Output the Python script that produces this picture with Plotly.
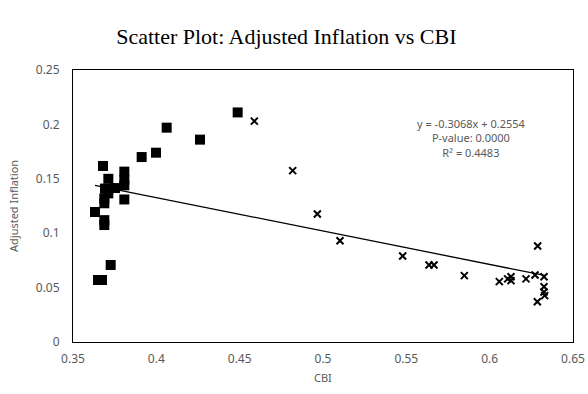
import plotly.graph_objects as go

# Group 1 (squares)
sq_x = [0.3632, 0.3680, 0.3650, 0.3674, 0.3726, 0.3688, 0.3688, 0.3712, 0.3808, 0.3808, 0.3808,
        0.3692, 0.3752, 0.3712, 0.3688, 0.3688, 0.3808, 0.3912, 0.3998, 0.4062, 0.4262, 0.4488]
sq_y = [0.1195, 0.1618, 0.0570, 0.0570, 0.0708, 0.1120, 0.1075, 0.1500, 0.1566, 0.1490, 0.1440,
        0.1410, 0.1415, 0.1366, 0.1320, 0.1275, 0.1310, 0.1700, 0.1740, 0.1970, 0.1860, 0.2110]

# Group 2 (crosses)
cx_x = [0.4588, 0.4818, 0.4966, 0.5102, 0.5478, 0.5636, 0.5666, 0.5848, 0.6058, 0.6108, 0.6128,
        0.6128, 0.6218, 0.6272, 0.6288, 0.6326, 0.6326, 0.6326, 0.6330, 0.6286]
cx_y = [0.2030, 0.1575, 0.1176, 0.0931, 0.0790, 0.0708, 0.0708, 0.0610, 0.0555, 0.0580, 0.0600,
        0.0564, 0.0580, 0.0616, 0.0882, 0.0600, 0.0508, 0.0460, 0.0426, 0.0370]

slope = -0.3068
intercept = 0.2554
r2 = 0.4483
pval = 0.0000

x_ticks = [0.35, 0.40, 0.45, 0.50, 0.55, 0.60, 0.65]
x_labels = ["0.35", "0.4", "0.45", "0.5", "0.55", "0.6", "0.65"]
y_ticks = [0, 0.05, 0.10, 0.15, 0.20, 0.25]
y_labels = ["0", "0.05", "0.1", "0.15", "0.2", "0.25"]

all_x = sq_x + cx_x
x0, x1 = min(all_x), max(all_x)
line_x = [x0, x1]
line_y = [slope * v + intercept for v in line_x]

fig = go.Figure()
fig.add_trace(go.Scatter(x=line_x, y=line_y, mode="lines",
                         line=dict(color="black", width=1.3), hoverinfo="skip"))
fig.add_trace(go.Scatter(x=sq_x, y=sq_y, mode="markers",
                         marker=dict(symbol="square", size=10, color="black",
                                     line=dict(width=0))))
fig.add_trace(go.Scatter(x=cx_x, y=cx_y, mode="markers",
                         marker=dict(symbol="x-thin-open", size=7, color="black",
                                     line=dict(width=2, color="black"))))

tick_font = dict(family="Noto Sans, Open Sans, sans-serif", size=12, color="#595959")
lab_font = dict(family="Noto Sans, sans-serif", size=11, color="#595959")

fig.update_layout(
    width=588, height=394,
    margin=dict(l=73, r=15, t=70, b=52, autoexpand=False),
    paper_bgcolor="white", plot_bgcolor="white",
    showlegend=False,
    title=dict(text="Scatter Plot: Adjusted Inflation vs CBI",
               font=dict(family="Liberation Serif, Times New Roman, serif", size=22, color="black"),
               x=0.487, xanchor="center", y=0.908, yanchor="middle"),
    xaxis=dict(range=[0.35, 0.65], tickvals=x_ticks, ticktext=x_labels,
               showgrid=False, zeroline=False, showline=True, mirror=True,
               linecolor="black", linewidth=1, ticks="outside", ticklen=6,
               tickcolor="rgba(0,0,0,0)", tickfont=tick_font, automargin=False),
    yaxis=dict(range=[0, 0.25], tickvals=y_ticks, ticktext=y_labels,
               showgrid=False, zeroline=False, showline=True, mirror=True,
               linecolor="black", linewidth=1, ticks="outside", ticklen=10,
               tickcolor="rgba(0,0,0,0)", tickfont=tick_font, automargin=False),
    annotations=[
        dict(x=0.5888, y=0.2095, xref="x", yref="y",
             text=f"y = {slope:.4f}x + {intercept:.4f}<br>P-value: {pval:.4f}<br>R² = {r2:.4f}",
             showarrow=False, align="center", xanchor="center", yanchor="top",
             font=lab_font),
        dict(x=0.5, y=-0.132, xref="paper", yref="paper", text="CBI",
             showarrow=False, xanchor="center", yanchor="middle", font=lab_font),
        dict(x=-0.12, y=0.5, xref="paper", yref="paper", text="Adjusted Inflation",
             showarrow=False, xanchor="center", yanchor="middle", textangle=-90, font=lab_font),
    ],
)

fig.write_html("out.html", config={"displayModeBar": False},
               post_script="document.body.style.margin='0';")
